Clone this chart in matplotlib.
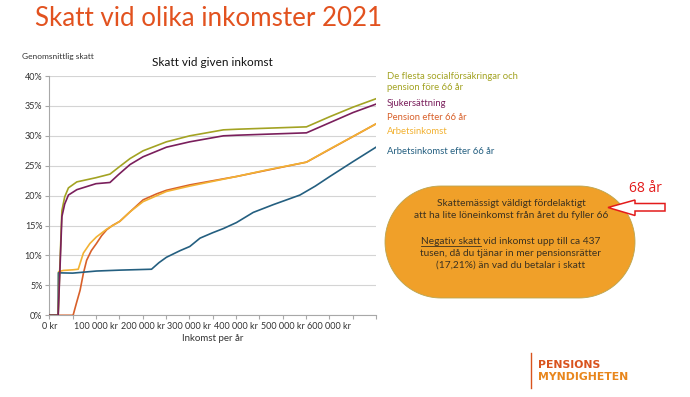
import matplotlib
matplotlib.use("Agg")
import matplotlib.pyplot as plt
import numpy as np
from matplotlib.patches import Polygon
from matplotlib.ticker import FixedLocator, FuncFormatter

# income in thousand kr, average tax in %
green_x = [0, 19, 23, 27, 33, 41, 59, 100, 130, 148, 173, 201, 251, 301, 373, 401, 551, 601, 651, 700]
green_y = [0, 0, 9.0, 17.5, 19.8, 21.3, 22.3, 23.0, 23.6, 24.7, 26.2, 27.5, 29.0, 30.0, 31.0, 31.1, 31.5, 33.2, 34.8, 36.2]

purple_x = [0, 19, 23, 27, 33, 41, 59, 100, 130, 148, 173, 201, 251, 301, 373, 401, 551, 601, 651, 700]
purple_y = [0, 0, 8.0, 16.5, 18.6, 20.1, 21.0, 22.0, 22.2, 23.5, 25.2, 26.5, 28.1, 29.0, 30.0, 30.1, 30.5, 32.2, 33.9, 35.3]

orange_x = [0, 51, 58, 66, 73, 80, 90, 101, 112, 123, 135, 151, 173, 201, 230, 251, 301, 401, 551, 700]
orange_y = [0, 0, 2.0, 4.2, 7.0, 9.2, 10.8, 12.0, 13.3, 14.3, 15.0, 15.7, 17.3, 19.3, 20.3, 20.9, 21.8, 23.2, 25.6, 32.0]

yellow_x = [0, 19, 20, 30, 50, 62, 73, 87, 101, 123, 151, 173, 201, 251, 301, 401, 466, 551, 601, 651, 700]
yellow_y = [0, 0, 7.3, 7.5, 7.6, 7.7, 10.4, 12.0, 13.1, 14.4, 15.7, 17.3, 19.0, 20.7, 21.6, 23.2, 24.3, 25.6, 27.8, 29.9, 32.0]

blue_x = [0, 19, 19.5, 50, 101, 151, 219, 235, 251, 280, 301, 323, 350, 373, 401, 437, 480, 537, 570, 601, 651, 700]
blue_y = [0, 0, 7.1, 7.05, 7.4, 7.55, 7.7, 8.8, 9.7, 10.8, 11.5, 12.9, 13.8, 14.5, 15.5, 17.2, 18.5, 20.1, 21.6, 23.2, 25.7, 28.1]

series_labels = ["De flesta socialförsäkringar och\npension före 66 år", "Sjukersättning",
                 "Pension efter 66 år", "Arbetsinkomst", "Arbetsinkomst efter 66 år"]
series_colors = ["#a3a323", "#7a1f5c", "#d8602a", "#f2b233", "#245f80"]

x_label_ticks = [0, 100, 200, 300, 400, 500, 600]
y_ticks = [0, 5, 10, 15, 20, 25, 30, 35, 40]

FONT = ["Liberation Sans Narrow", "Lato", "DejaVu Sans"]

W, H = 690, 397
fig = plt.figure(figsize=(W / 100, H / 100), dpi=100)

## chart axes, placed in pixels
x0, x1, ytop, ybot = 49.3, 376, 76, 315.3
ax = fig.add_axes([x0 / W, 1 - ybot / H, (x1 - x0) / W, (ybot - ytop) / H])

ax.plot(orange_x, orange_y, color=series_colors[2], lw=1.2, zorder=3)
ax.plot(yellow_x, yellow_y, color=series_colors[3], lw=1.2, zorder=4)
ax.plot(blue_x, blue_y, color=series_colors[4], lw=1.2, zorder=5)
ax.plot(green_x, green_y, color=series_colors[0], lw=1.2, zorder=6)
ax.plot(purple_x, purple_y, color=series_colors[1], lw=1.2, zorder=7)

ax.set_xlim(0, 700)
ax.set_ylim(0, 40)
ax.set_yticks(y_ticks)
ax.yaxis.set_major_formatter(FuncFormatter(lambda v, p: f"{int(v)}%"))
ax.xaxis.set_major_locator(FixedLocator(np.arange(0, 701, 50)))
ax.xaxis.set_major_formatter(FuncFormatter(
    lambda v, p: ("0 kr" if v == 0 else f"{int(v)} 000 kr") if int(v) in x_label_ticks else ""))
ax.grid(axis="y", color="#d4d4d4", lw=0.8)
ax.set_axisbelow(True)
for s in ["top", "right"]:
    ax.spines[s].set_visible(False)
for s in ["left", "bottom"]:
    ax.spines[s].set_color("#a8a8a8")
ax.tick_params(axis="both", length=3, color="#a8a8a8", labelsize=6.5, labelcolor="#333333", pad=2)
for lab in ax.get_xticklabels() + ax.get_yticklabels():
    lab.set_family(FONT)
ax.set_xlabel("Inkomst per år", fontsize=7, color="#333333", family=FONT, labelpad=2)

## overlay in pixel coords
ov = fig.add_axes([0, 0, 1, 1], zorder=10)
ov.set_xlim(0, W)
ov.set_ylim(H, 0)
ov.axis("off")
ov.patch.set_alpha(0)

ov.text(35, 18, "Skatt vid olika inkomster 2021", color="#e2521f", fontsize=18.7,
        family=["Lato", "DejaVu Sans"], va="center", ha="left")
ov.text(22, 57, "Genomsnittlig skatt", fontsize=6, color="#333333", family=FONT, va="center")
ov.text(212, 62, "Skatt vid given inkomst", fontsize=8.5, color="#111111", family=FONT,
        va="center", ha="center")

legend_y = [82, 103, 117, 131, 151]
for lab, col, yy in zip(series_labels, series_colors, legend_y):
    ov.text(387, yy, lab, color=col, fontsize=6.8, family=FONT, va="center", ha="left",
            linespacing=1.15)

## orange pill (stadium shape) with text
r, cy, cxl, cxr = 56, 242, 441, 579
t_right = np.linspace(-np.pi / 2, np.pi / 2, 60)
t_left = np.linspace(np.pi / 2, 3 * np.pi / 2, 60)
pill_pts = np.vstack([np.column_stack([cxr + r * np.cos(t_right), cy + r * np.sin(t_right)]),
                      np.column_stack([cxl + r * np.cos(t_left), cy + r * np.sin(t_left)])])
ov.add_patch(Polygon(pill_pts, closed=True, facecolor="#f0a029", edgecolor="#b9a552", lw=0.6))

PFONT = ["Liberation Sans Narrow", "Lato", "DejaVu Sans"]
txt_color = "#3b3120"
pill_lines = [(203, "Skattemässigt väldigt fördelaktigt"),
              (216, "att ha lite löneinkomst från året du fyller 66"),
              (241, "Negativ skatt vid inkomst upp till ca 437"),
              (253, "tusen, då du tjänar in mer pensionsrätter"),
              (265, "(17,21%) än vad du betalar i skatt")]
texts = []
for yy, s in pill_lines:
    texts.append(ov.text(511, yy, s, fontsize=7.3, color=txt_color, family=PFONT,
                         ha="center", va="center"))

# underline "Negativ skatt"
renderer = fig.canvas.get_renderer()
tmp = ov.text(0, 0, "Negativ skatt", fontsize=7.3, family=PFONT)
w_part = tmp.get_window_extent(renderer).width
tmp.remove()
bb = texts[2].get_window_extent(renderer)
inv = ov.transData.inverted()
ux0, uy = inv.transform((bb.x0, bb.y0))
ux1, _ = inv.transform((bb.x0 + w_part, bb.y0))
ov.plot([ux0, ux1], [uy + 0.5, uy + 0.5], color=txt_color, lw=0.6)

## red arrow and 68 år
arrow = Polygon([(608, 207.5), (635, 200), (635, 203.5), (665, 203.5), (665, 211),
                 (635, 211), (635, 215.5)], closed=True, facecolor="white",
                edgecolor="#e31b1b", lw=1.1)
ov.add_patch(arrow)
ov.text(645, 188, "68 år", color="#e31b1b", fontsize=10, family=["Open Sans", "DejaVu Sans"],
        ha="center", va="center")

## logo
ov.plot([531, 531], [353, 388], color="#d9531e", lw=1.0)
ov.text(538, 365, "PENSIONS", color="#d9531e", fontsize=7.8, family="DejaVu Sans",
        weight="bold", va="center")
ov.text(538, 377, "MYNDIGHETEN", color="#e8861c", fontsize=7.8, family="DejaVu Sans",
        weight="bold", va="center")

fig.savefig("out.png", dpi=100)
